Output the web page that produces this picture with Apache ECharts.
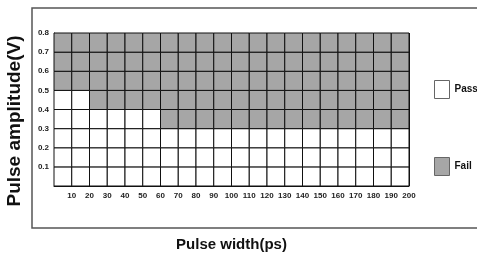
<!DOCTYPE html>
<html>
<head>
<meta charset="utf-8">
<script src="https://cdn.jsdelivr.net/npm/echarts@6/dist/echarts.min.js"></script>
<style>
html, body { margin: 0; padding: 0; background: #fff; }
#chart { width: 477px; height: 257px; }
</style>
</head>
<body>
<div id="chart"></div>
<script>
// cell left edges (ps) and bottom edges (V)
var pulseWidths = [0, 10, 20, 30, 40, 50, 60, 70, 80, 90, 100, 110, 120, 130, 140, 150, 160, 170, 180, 190];
var amplitudes = [0, 0.1, 0.2, 0.3, 0.4, 0.5, 0.6, 0.7];
// for each amplitude row: first pulse width that fails (null = whole row passes)
var failStartWidth = [null, null, null, 60, 20, 0, 0, 0];
var cellWidth = 10;
var cellHeight = 0.1;

var passCells = [];
var failCells = [];
amplitudes.forEach(function (a, i) {
	pulseWidths.forEach(function (w) {
		var start = failStartWidth[i];
		if (start !== null && w >= start) {
			failCells.push([w, a]);
		} else {
			passCells.push([w, a]);
		}
	});
});

var labelFont = '"Liberation Sans Narrow", "Liberation Sans", Arial, sans-serif';
var titleFont = '"Liberation Sans", Arial, sans-serif';

var renderCell = function (params, api) {
	var x = api.value(0), y = api.value(1);
	var p1 = api.coord([x, y + cellHeight]);
	var p2 = api.coord([x + cellWidth, y]);
	return {
		type: 'rect',
		shape: { x: p1[0], y: p1[1], width: p2[0] - p1[0], height: p2[1] - p1[1] },
		style: api.style({ stroke: '#111', lineWidth: 1 })
	};
};

var myChart = echarts.init(document.getElementById('chart'));
var option = {
	animation: false,
	grid: {
		left: 54,
		top: 33,
		right: 68,
		bottom: 63
	},
	graphic: [
		{
			type: 'rect',
			shape: { x: 32, y: 8, width: 460, height: 220 },
			style: { fill: 'none', stroke: '#555', lineWidth: 1.5 },
			z: -1
		},
		{
			type: 'text',
			x: 15,
			y: 121,
			rotation: Math.PI / 2,
			style: {
				text: 'Pulse amplitude(V)',
				fontFamily: titleFont,
				fontWeight: 'bold',
				fontSize: 19,
				fill: '#111',
				align: 'center',
				verticalAlign: 'middle'
			}
		}
	],
	legend: {
		orient: 'vertical',
		left: 429,
		top: 75,
		itemWidth: 15,
		itemHeight: 18,
		itemGap: 58,
		icon: 'rect',
		textStyle: {
			fontFamily: labelFont,
			fontWeight: 'bold',
			fontSize: 10,
			color: '#111'
		},
		data: [
			{ name: 'Pass', itemStyle: { color: '#fff', borderColor: '#666', borderWidth: 1 } },
			{ name: 'Fail', itemStyle: { color: '#a6a6a6', borderColor: '#666', borderWidth: 1 } }
		]
	},
	xAxis: {
		type: 'value',
		min: 0,
		max: 200,
		interval: 10,
		name: 'Pulse width(ps)',
		nameLocation: 'middle',
		nameGap: 51,
		nameTextStyle: {
			fontFamily: titleFont,
			fontWeight: 'bold',
			fontSize: 15,
			color: '#111'
		},
		axisLine: { lineStyle: { color: '#111', width: 1 } },
		axisTick: { show: false },
		splitLine: { show: true, lineStyle: { color: '#111', width: 1 } },
		axisLabel: {
			margin: 6,
			fontFamily: labelFont,
			fontWeight: 'bold',
			fontSize: 8,
			color: '#222',
			formatter: function (v) { return v === 0 ? '' : v; }
		}
	},
	yAxis: {
		type: 'value',
		min: 0,
		max: 0.8,
		interval: 0.1,
		axisLine: { show: true, lineStyle: { color: '#111', width: 1 } },
		axisTick: { show: false },
		splitLine: { show: true, lineStyle: { color: '#111', width: 1 } },
		axisLabel: {
			margin: 5,
			fontFamily: labelFont,
			fontWeight: 'bold',
			fontSize: 8,
			color: '#222',
			formatter: function (v) { return v === 0 ? '' : v.toFixed(1); }
		}
	},
	series: [
		{
			name: 'Pass',
			type: 'custom',
			renderItem: renderCell,
			itemStyle: { color: '#fff' },
			data: passCells
		},
		{
			name: 'Fail',
			type: 'custom',
			renderItem: renderCell,
			itemStyle: { color: '#a6a6a6' },
			data: failCells
		}
	]
};
myChart.setOption(option);
</script>
</body>
</html>
